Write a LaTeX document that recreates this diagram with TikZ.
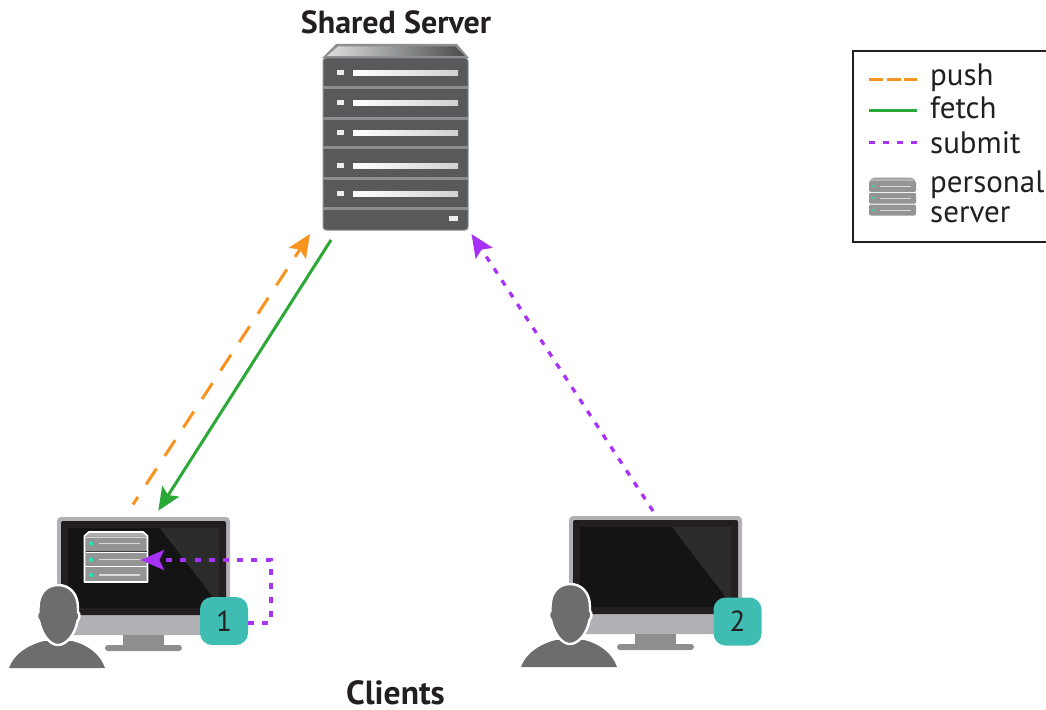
\documentclass[tikz,border=0pt]{standalone}
\usepackage{fontspec}
\setmainfont{PT Sans}
\usetikzlibrary{arrows.meta}
\definecolor{txt}{HTML}{231F20}
\definecolor{pushc}{HTML}{F7931E}
\definecolor{fetchc}{HTML}{2BA836}
\definecolor{subc}{HTML}{A832F5}
\definecolor{teal}{HTML}{3FBDB2}
\definecolor{srv}{HTML}{58595B}
\definecolor{srvline}{HTML}{8C8E91}
\definecolor{silver}{HTML}{B1B0B4}
\definecolor{standc}{HTML}{8E8E8E}
\definecolor{bezel}{HTML}{231F20}
\definecolor{screenc}{HTML}{141414}
\definecolor{glare}{HTML}{2C2C2C}
\definecolor{personc}{HTML}{6D6D6D}
\definecolor{minis}{HTML}{949494}
\definecolor{led}{HTML}{1BE8B0}
\tikzset{
  x=1pt,y=-1pt,
  tip/.style={-{Stealth[length=23pt,width=20pt,inset=4.5pt]}},
  pushline/.style={draw=pushc,line width=3pt,dash pattern=on 19pt off 15pt,dash phase=10pt},
  fetchline/.style={draw=fetchc,line width=3pt},
  subline/.style={draw=subc,line width=3.3pt,dash pattern=on 6pt off 8.2pt},
  title/.style={font=\bfseries\fontsize{32}{34}\selectfont,text=txt,inner sep=0pt,anchor=base},
  legendtxt/.style={font=\fontsize{31}{33}\selectfont,text=txt,inner sep=0pt,anchor=base west},
  badge/.style={fill=teal,rounded corners=12pt,minimum size=48pt,inner sep=0pt,text=txt,font=\fontsize{29}{30}\selectfont},
  monitor/.pic={
    \fill[silver,rounded corners=4pt] (57,517) -- (230,517) -- (230,635) -- (57,635) -- cycle;
    \fill[bezel,rounded corners=2pt] (61,521) rectangle (226,615);
    \fill[screenc] (68,528) rectangle (219,608);
    \fill[glare] (160,528) -- (219,528) -- (219,605) -- cycle;
    \fill[standc] (123,635) rectangle (164,646);
    \fill[standc,rounded corners=3pt] (105,645) rectangle (182,651);
  },
  person/.pic={
    \fill[personc] (9,668) .. controls (14,654) and (28,645) .. (44,641) -- (72,641) .. controls (88,645) and (100,654) .. (105,668) -- cycle;
    \draw[white,line width=2.4pt,fill=personc] (58,585) .. controls (46,585) and (38.5,594) .. (38.5,608) -- (38.5,612) .. controls (36.5,613) and (36.5,619) .. (39,621)
      .. controls (42,635) and (50,645) .. (58,645) .. controls (66,645) and (75,635) .. (77.5,621)
      .. controls (80,619) and (80,613) .. (78,612) -- (78,608) .. controls (78,594) and (70,585) .. (58,585) -- cycle;
  }
}
\begin{document}
\begin{tikzpicture}
\useasboundingbox (0,0) rectangle (1046,709);
% Shared server
\fill[srvline] (336,44) -- (457,44) -- (469,58) -- (322,58) -- cycle;
\shade[left color=white!80!srv,right color=srv!85!black] (338,46.5) -- (455,46.5) -- (465,56) -- (327,56) -- cycle;
\draw[srvline,line width=1pt,fill=srv,rounded corners=3pt] (323,58) -- (468,58) -- (468,230) -- (323,230) -- cycle;
\foreach \yy in {87,118,147,178,208}
  \fill[srvline] (323,\yy-1.5) rectangle (468,\yy+1.5);
\foreach \yy in {72.5,102.5,132.5,165.5,193.5}{
  \fill[white!93!black] (337,\yy-2.5) rectangle (344,\yy+2.5);
  \shade[left color=white,right color=white!82!black] (353,\yy-2.5) rectangle (458,\yy+2.5);
}
\fill[white!93!black] (449,216) rectangle (458,221);
\node[title] (servertitle) at (396,33.5) {Shared Server};
\node[title,font=\bfseries\fontsize{33.5}{35}\selectfont] (clientstitle) at (395.5,704) {Clients};
% Clients
\pic {monitor};
\pic at (512,-1) {monitor};
% personal server on client 1
\draw[white,line width=1.8pt,fill=minis,line join=round] (84.5,536) -- (89,532) -- (143,532) -- (147.5,536) -- (147.5,582) -- (84.5,582) -- cycle;
\fill[white!25!minis] (89.5,533) -- (142.5,533) -- (146,536.5) -- (86,536.5) -- cycle;
\draw[white!60!minis,line width=.8pt] (85.5,537) -- (146.5,537);
\draw[srv!70!black,line width=1.4pt] (85.5,551.7) -- (146.5,551.7);
\draw[white,line width=.8pt] (85.5,552.8) -- (146.5,552.8);
\draw[white,line width=1.4pt] (85,566.3) -- (147,566.3);
\foreach \yy in {543.5,559.7,575}{
  \fill[led] (91,\yy) circle (2.2pt);
  \draw[white!85!black,line width=1.4pt] (99,\yy) -- (140,\yy);
}
\pic {person};
\pic at (512,-1) {person};
\node[badge] (one) at (224,621) {1};
\node[badge] (two) at (737.5,621.5) {2};
% connector ends
\coordinate (pushstart) at (133,504.5);
\coordinate (pushend) at (310,234);
\coordinate (fetchstart) at (331,240);
\coordinate (fetchend) at (158.3,510.7);
\coordinate (substart) at (653,511);
\coordinate (subend) at (471.5,234);
\coordinate (personalin) at (141,560);
\coordinate (corner) at (271,560);
\draw[pushline,tip] (pushstart) -- (pushend);
\draw[fetchline,tip] (fetchstart) -- (fetchend);
\draw[subline,tip] (substart) -- (subend);
\draw[subline,tip] (one.east |- 0,623) -| (corner) -- (personalin);
% Legend
\draw[txt,line width=2.6pt,fill=white] (853,51) rectangle (1050,242);
\coordinate (la) at (869,79); \coordinate (lb) at (917,79);
\coordinate (lc) at (869,110.5); \coordinate (ld) at (917,110.5);
\coordinate (le) at (869,142.5); \coordinate (lf) at (917,142.5);
\draw[pushline,dash pattern=on 14pt off 3.5pt on 14pt off 3.5pt on 14pt,dash phase=0pt] (la) -- (lb);
\draw[fetchline] (lc) -- (ld);
\draw[subline,dash pattern=on 6pt off 8pt] (le) -- (lf);
\node[legendtxt] (lpush) at (930,85) {push};
\node[legendtxt] (lfetch) at (930,118) {fetch};
\node[legendtxt] (lsubmit) at (930,153.5) {submit};
\node[legendtxt] (lpers) at (930,192) {personal};
\node[legendtxt] (lserv) at (930,222.5) {server};
% legend server
\fill[minis,rounded corners=2pt] (869,192) -- (869,181) -- (873,177.5) -- (912,177.5) -- (916,181) -- (916,192) -- cycle;
\fill[minis,rounded corners=1pt] (869,193) rectangle (916,203.5);
\fill[minis,rounded corners=2pt] (869,204.5) rectangle (916,215.5);
\fill[white!30!minis] (872,178.5) -- (913,178.5) -- (915,181) -- (870,181) -- cycle;
\foreach \yy in {186,198,210}{
  \fill[led] (873.5,\yy) circle (1.4pt);
  \draw[white!85!black,line width=1pt] (880,\yy) -- (911,\yy);
}
\end{tikzpicture}
\end{document}
